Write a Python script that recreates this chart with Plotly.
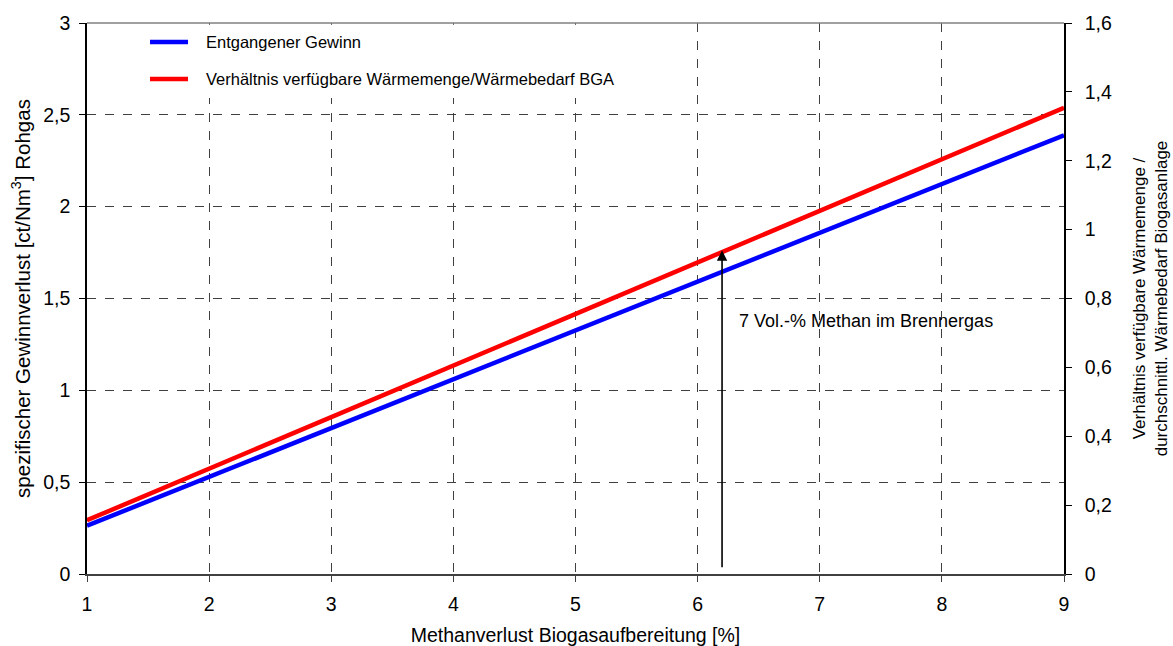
import plotly.graph_objects as go

methane_loss = [1, 2, 3, 4, 5, 6, 7, 8, 9]
lost_profit = [0.263, 0.529, 0.795, 1.060, 1.326, 1.592, 1.857, 2.123, 2.389]
heat_ratio = [0.156, 0.306, 0.456, 0.605, 0.755, 0.905, 1.055, 1.205, 1.354]

series_names = ["Entgangener Gewinn",
                "Verhältnis verfügbare Wärmemenge/Wärmebedarf BGA"]
series_colors = ["#0000ff", "#ff0000"]

arrow_x = 6.2
arrow_y_start = 0.015
arrow_y_end = 0.94
note_x = 6.32
note_y = 1.38
note_text = "7 Vol.-% Methan im Brennergas"

FONT = "Liberation Sans, Arial, sans-serif"

fig = go.Figure()
fig.add_trace(go.Scatter(
    x=methane_loss, y=lost_profit, mode="lines", name=series_names[0],
    line=dict(color=series_colors[0], width=4.5), yaxis="y", showlegend=False))
fig.add_trace(go.Scatter(
    x=methane_loss, y=heat_ratio, mode="lines", name=series_names[1],
    line=dict(color=series_colors[1], width=4.5), yaxis="y2", showlegend=False))

fig.add_annotation(
    x=arrow_x, y=arrow_y_end, xref="x", yref="y2",
    ax=arrow_x, ay=arrow_y_start, axref="x", ayref="y2",
    showarrow=True, arrowhead=2, arrowsize=1.3, arrowwidth=1.6,
    arrowcolor="black", text="")
fig.add_annotation(
    x=note_x, y=note_y, xref="x", yref="y", text=note_text,
    showarrow=False, xanchor="left", yanchor="middle",
    font=dict(family=FONT, size=18, color="black"))

# top border (gray)
fig.add_shape(type="line", xref="paper", yref="paper", x0=0, x1=1, y0=1, y1=1,
              line=dict(color="#808080", width=1.5))

# legend (drawn manually: white box, line samples, labels)
fig.add_shape(type="rect", xref="paper", yref="paper", x0=0.054, x1=0.576,
              y0=0.864, y1=0.997, fillcolor="white", line=dict(width=0), layer="above")
leg_y = [0.9655, 0.8984]
for name, color, yy in zip(series_names, series_colors, leg_y):
    fig.add_shape(type="line", xref="paper", yref="paper", x0=0.0645, x1=0.1034,
                  y0=yy, y1=yy, line=dict(color=color, width=4.5), layer="above")
    fig.add_annotation(x=0.1198, y=yy, xref="paper", yref="paper", text=name,
                       showarrow=False, xanchor="left", yanchor="middle",
                       font=dict(family=FONT, size=16.5, color="black"))

grid = dict(showgrid=True, gridcolor="#404040", gridwidth=1, griddash="dash")

fig.update_layout(
    width=1173, height=646,
    margin=dict(l=87, r=109, t=23, b=72),
    paper_bgcolor="white", plot_bgcolor="white",
    separators=",.",
    font=dict(family=FONT, size=19.5, color="black"),
    showlegend=False,
    xaxis=dict(range=[1, 9], dtick=1, tick0=1, ticks="outside", ticklen=6,
               tickcolor="#404040", showline=True, linecolor="#404040", linewidth=1.5,
               zeroline=False, ticklabelstandoff=6, automargin=False,
               title=dict(text="Methanverlust Biogasaufbereitung [%]", standoff=16,
                          font=dict(size=19.5)),
               **grid),
    yaxis=dict(range=[0, 3], dtick=0.5, ticks="outside", ticklen=6,
               tickcolor="black", showline=True, linecolor="black", linewidth=1.5,
               zeroline=False, ticklabelstandoff=5, automargin=False,
               title=dict(text="spezifischer Gewinnverlust [ct/Nm<sup>3</sup>] Rohgas",
                          standoff=7, font=dict(size=20.5)),
               **grid),
    yaxis2=dict(range=[0, 1.6], dtick=0.2, overlaying="y", side="right",
                ticks="outside", ticklen=6, tickcolor="black", showline=True,
                linecolor="black", linewidth=1.5, showgrid=False, zeroline=False,
                ticklabelstandoff=9, automargin=False,
                title=dict(text="Verhältnis verfügbare Wärmemenge /<br>durchschnittl. Wärmebedarf Biogasanlage",
                           standoff=22, font=dict(size=17))),
)

fig.write_html("out.html")
